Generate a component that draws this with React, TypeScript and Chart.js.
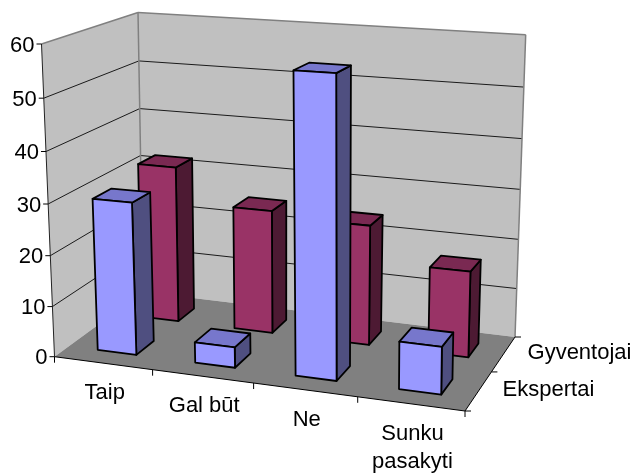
import React, { useEffect, useRef } from "react";
import { Chart, registerables } from "chart.js";

Chart.register(...registerables);

const categories = ["Taip", "Gal būt", "Ne", "Sunku pasakyti"];
const categoryLines = [["Taip"], ["Gal būt"], ["Ne"], ["Sunku", "pasakyti"]];
const seriesNames = ["Ekspertai", "Gyventojai"];
const ekspertai = [30, 4, 57, 9];
const gyventojai = [32, 25, 24, 17];
const valueTicks = { min: 0, max: 60, step: 10 };

type P = [number, number];
// Projection corners: [front-left, front-right, back-right, back-left]
const floorQuad: P[] = [[54.5, 356.7], [465, 411], [515, 337], [143, 292]];
const topQuad: P[] = [[41.5, 44], [470, 71], [525.7, 34.7], [138, 12.5]];
const gammaH = -0.0457;
const FONT = "22px 'Liberation Sans', Arial, sans-serif";

function homography(q: P[]) {
  const [p0, p1, p2, p3] = q;
  const dx1 = p1[0] - p2[0], dx2 = p3[0] - p2[0], sx = p0[0] - p1[0] + p2[0] - p3[0];
  const dy1 = p1[1] - p2[1], dy2 = p3[1] - p2[1], sy = p0[1] - p1[1] + p2[1] - p3[1];
  const det = dx1 * dy2 - dx2 * dy1;
  const g = (sx * dy2 - dx2 * sy) / det;
  const h = (dx1 * sy - sx * dy1) / det;
  const a = p1[0] - p0[0] + g * p1[0], b = p3[0] - p0[0] + h * p3[0];
  const d = p1[1] - p0[1] + g * p1[1], e = p3[1] - p0[1] + h * p3[1];
  return (u: number, v: number): P => {
    const w = 1 + g * u + h * v;
    return [(p0[0] + a * u + b * v) / w, (p0[1] + d * u + e * v) / w];
  };
}
const floorAt = homography(floorQuad);
const topAt = homography(topQuad);
function project(u: number, v: number, h: number): P {
  const f = (h * (1 + gammaH)) / (1 + h * gammaH);
  const a = floorAt(u, v), b = topAt(u, v);
  return [a[0] + (b[0] - a[0]) * f, a[1] + (b[1] - a[1]) * f];
}

function poly(ctx: CanvasRenderingContext2D, pts: P[], fill: string | null, stroke: string | null, lw = 1) {
  ctx.beginPath();
  pts.forEach((p, i) => (i ? ctx.lineTo(p[0], p[1]) : ctx.moveTo(p[0], p[1])));
  ctx.closePath();
  if (fill) { ctx.fillStyle = fill; ctx.fill(); }
  if (stroke) { ctx.strokeStyle = stroke; ctx.lineWidth = lw; ctx.stroke(); }
}
function seg(ctx: CanvasRenderingContext2D, a: P, b: P, color: string, lw = 1) {
  ctx.beginPath();
  ctx.moveTo(a[0], a[1]);
  ctx.lineTo(b[0], b[1]);
  ctx.strokeStyle = color;
  ctx.lineWidth = lw;
  ctx.stroke();
}

const seriesColors = [
  { front: "#9999FF", side: "#4F4F80", top: "#7777CC" },
  { front: "#993366", side: "#4D1A33", top: "#7A2952" },
];

const plugin3d = {
  id: "bars3d",
  beforeDatasetsDraw(chart: any) {
    const ctx: CanvasRenderingContext2D = chart.ctx;
    const xs = chart.scales.x, ys = chart.scales.y, zs = chart.scales.z;
    const area = chart.chartArea;
    const U = (px: number) => (px - area.left) / area.width;
    const H = (py: number) => (ys.bottom - py) / (ys.bottom - ys.top);
    const V = (i: number) => U(zs.getPixelForValue(i));

    ctx.save();
    ctx.lineJoin = "round";

    // walls and floor
    poly(ctx, [project(0, 0, 0), project(0, 1, 0), project(0, 1, 1), project(0, 0, 1)], "#C0C0C0", null);
    poly(ctx, [project(0, 1, 0), project(1, 1, 0), project(1, 1, 1), project(0, 1, 1)], "#C0C0C0", null);
    poly(ctx, [project(0, 0, 0), project(1, 0, 0), project(1, 1, 0), project(0, 1, 0)], "#808080", null);

    // gridlines from the value scale
    ys.ticks.forEach((t: any) => {
      if (t.value === ys.min || t.value === ys.max) return;
      const h = H(ys.getPixelForValue(t.value));
      seg(ctx, project(0, 0, h), project(0, 1, h), "#1a1a1a", 1);
      seg(ctx, project(0, 1, h), project(1, 1, h), "#1a1a1a", 1);
    });
    // wall outline
    const g = "#808080";
    seg(ctx, project(0, 0, 1), project(0, 1, 1), g, 1.5);
    seg(ctx, project(0, 1, 1), project(1, 1, 1), g, 1.5);
    seg(ctx, project(1, 1, 1), project(1, 1, 0), g, 1.5);
    seg(ctx, project(0, 1, 1), project(0, 1, 0), g, 1.5);

    // axes
    const k = "#000000";
    seg(ctx, project(0, 0, 0), project(0, 0, 1), "#222222", 1);
    seg(ctx, project(0, 0, 0), project(1, 0, 0), k, 1);
    seg(ctx, project(1, 0, 0), project(1, 1, 0), k, 1);
    ys.ticks.forEach((t: any) => {
      const p = project(0, 0, H(ys.getPixelForValue(t.value)));
      seg(ctx, p, [p[0] - 5, p[1]], k, 1);
    });
    for (let i = 0; i <= categories.length; i++) {
      const p = project(i / categories.length, 0, 0);
      seg(ctx, p, [p[0], p[1] + 6], k, 1);
    }
    for (let i = 0; i <= seriesNames.length; i++) {
      const p = project(1, i / seriesNames.length, 0);
      seg(ctx, p, [p[0] + 6, p[1]], k, 1);
    }

    // tick labels
    ctx.font = FONT;
    ctx.fillStyle = "#000";
    ctx.textBaseline = "middle";
    ctx.textAlign = "right";
    ys.ticks.forEach((t: any) => {
      const p = project(0, 0, H(ys.getPixelForValue(t.value)));
      ctx.fillText(String(t.value), p[0] - 7, p[1] + 1.5);
    });
    ctx.textAlign = "center";
    categoryLines.forEach((lines, i) => {
      const p = project(U(xs.getPixelForValue(i)), 0, 0);
      lines.forEach((line, j) => ctx.fillText(line, p[0] + 1.5, p[1] + 30 + j * 28));
    });
    ctx.textAlign = "left";
    seriesNames.forEach((name, i) => {
      const p = project(1, V(i), 0);
      ctx.fillText(name, p[0] + 24, p[1] - 1);
    });

    // bars, back series first
    const depth = 0.4 * (V(1) - V(0));
    for (let d = chart.data.datasets.length - 1; d >= 0; d--) {
      const meta = chart.getDatasetMeta(d);
      const c = seriesColors[d];
      const v0 = V(d) - depth / 2, v1 = V(d) + depth / 2;
      meta.data.forEach((el: any) => {
        const u0 = U(el.x - el.width / 2), u1 = U(el.x + el.width / 2);
        const h = H(el.y);
        const fb0 = project(u0, v0, 0), fb1 = project(u1, v0, 0), bb1 = project(u1, v1, 0);
        const ft0 = project(u0, v0, h), ft1 = project(u1, v0, h), bt1 = project(u1, v1, h), bt0 = project(u0, v1, h);
        poly(ctx, [fb1, bb1, bt1, ft1], c.side, k, 1.8);
        poly(ctx, [ft0, ft1, bt1, bt0], c.top, k, 1.8);
        poly(ctx, [fb0, fb1, ft1, ft0], c.front, k, 1.8);
      });
    }
    ctx.restore();
    return false; // the flat bars are replaced by the projected ones
  },
};

export default function App() {
  const ref = useRef<HTMLCanvasElement>(null);
  useEffect(() => {
    const chart = new Chart(ref.current!, {
      type: "bar",
      data: {
        labels: categories,
        datasets: [
          { label: seriesNames[0], data: ekspertai, backgroundColor: seriesColors[0].front },
          { label: seriesNames[1], data: gyventojai, backgroundColor: seriesColors[1].front },
        ],
      },
      options: {
        animation: false,
        responsive: false,
        devicePixelRatio: 1,
        layout: { padding: 0 },
        datasets: { bar: { grouped: false, barPercentage: 0.4, categoryPercentage: 1 } },
        plugins: { legend: { display: false }, title: { display: false }, tooltip: { enabled: false } },
        scales: {
          x: { type: "category", display: false, offset: true },
          z: { type: "category", axis: "x", labels: seriesNames, display: false, offset: true },
          y: { type: "linear", display: false, min: valueTicks.min, max: valueTicks.max, ticks: { stepSize: valueTicks.step } },
        },
      },
      plugins: [plugin3d],
    } as any);
    return () => chart.destroy();
  }, []);
  return (
    <div style={{ position: "fixed", left: 0, top: 0, width: 634, height: 474, background: "#fff" }}>
      <canvas ref={ref} width={634} height={474} style={{ display: "block" }} />
    </div>
  );
}
